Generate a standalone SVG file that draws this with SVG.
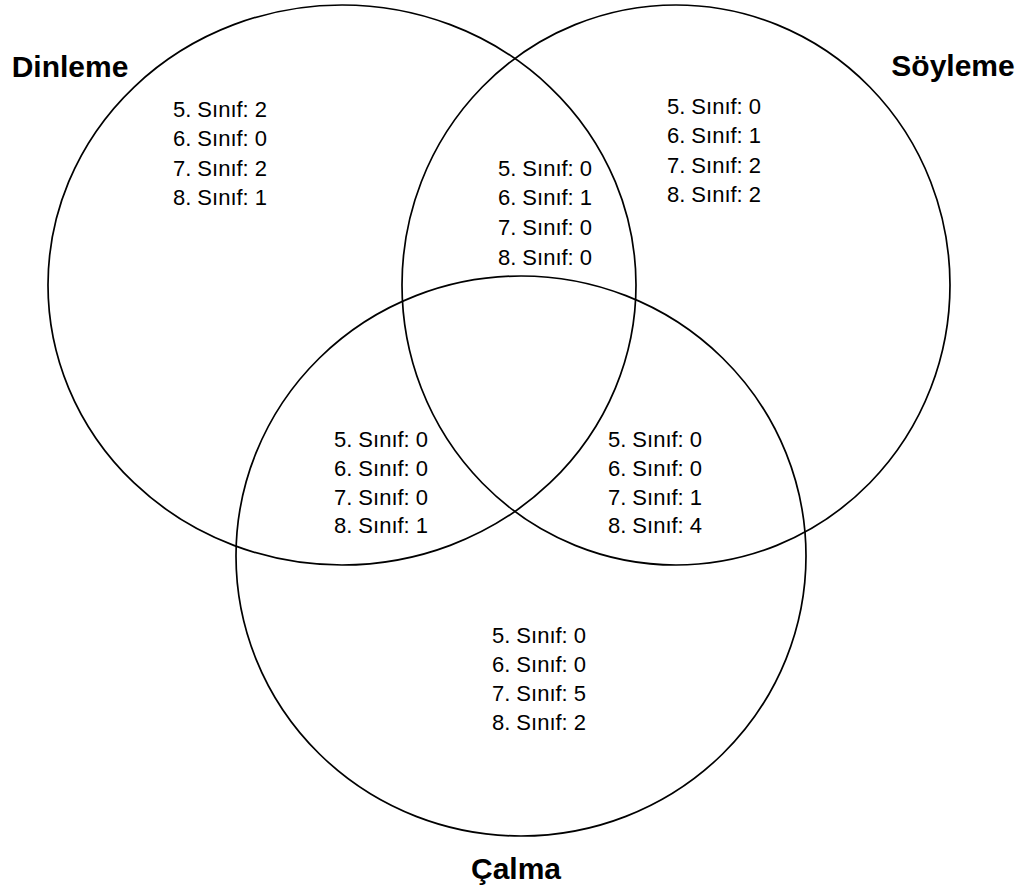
<svg xmlns="http://www.w3.org/2000/svg" width="1034" height="890" viewBox="0 0 1034 890">
<style>
.set{fill:none;stroke:#000;stroke-width:1.7}
.t{font-family:"Liberation Sans",Arial,sans-serif;font-size:22px;fill:#000;text-anchor:middle}
.h{font-family:"Liberation Sans",Arial,sans-serif;font-size:30px;font-weight:bold;fill:#000;text-anchor:middle}
</style>
<rect width="1034" height="890" fill="#fff"/>
<g id="dinleme">
<ellipse class="set" cx="342" cy="285" rx="294" ry="280"/>
<text class="h" x="70" y="77">Dinleme</text>
</g>
<g id="soyleme">
<ellipse class="set" cx="676" cy="285" rx="274" ry="280"/>
<text class="h" x="953" y="76">Söyleme</text>
</g>
<g id="calma">
<ellipse class="set" cx="521" cy="556" rx="285" ry="280"/>
<text class="h" x="516" y="879">Çalma</text>
</g>
<g id="only-dinleme">
<text class="t" x="220" y="117">5. Sınıf: 2</text>
<text class="t" x="220" y="146">6. Sınıf: 0</text>
<text class="t" x="220" y="176">7. Sınıf: 2</text>
<text class="t" x="220" y="205">8. Sınıf: 1</text>
</g>
<g id="only-soyleme">
<text class="t" x="714" y="114">5. Sınıf: 0</text>
<text class="t" x="714" y="143">6. Sınıf: 1</text>
<text class="t" x="714" y="173">7. Sınıf: 2</text>
<text class="t" x="714" y="202">8. Sınıf: 2</text>
</g>
<g id="dinleme-soyleme">
<text class="t" x="545" y="176">5. Sınıf: 0</text>
<text class="t" x="545" y="205">6. Sınıf: 1</text>
<text class="t" x="545" y="235">7. Sınıf: 0</text>
<text class="t" x="545" y="265">8. Sınıf: 0</text>
</g>
<g id="dinleme-calma">
<text class="t" x="381" y="447">5. Sınıf: 0</text>
<text class="t" x="381" y="476">6. Sınıf: 0</text>
<text class="t" x="381" y="505">7. Sınıf: 0</text>
<text class="t" x="381" y="533">8. Sınıf: 1</text>
</g>
<g id="soyleme-calma">
<text class="t" x="655" y="447">5. Sınıf: 0</text>
<text class="t" x="655" y="476">6. Sınıf: 0</text>
<text class="t" x="655" y="505">7. Sınıf: 1</text>
<text class="t" x="655" y="533">8. Sınıf: 4</text>
</g>
<g id="only-calma">
<text class="t" x="539" y="643">5. Sınıf: 0</text>
<text class="t" x="539" y="672">6. Sınıf: 0</text>
<text class="t" x="539" y="701">7. Sınıf: 5</text>
<text class="t" x="539" y="730">8. Sınıf: 2</text>
</g>
<g id="connectors"></g>
</svg>
